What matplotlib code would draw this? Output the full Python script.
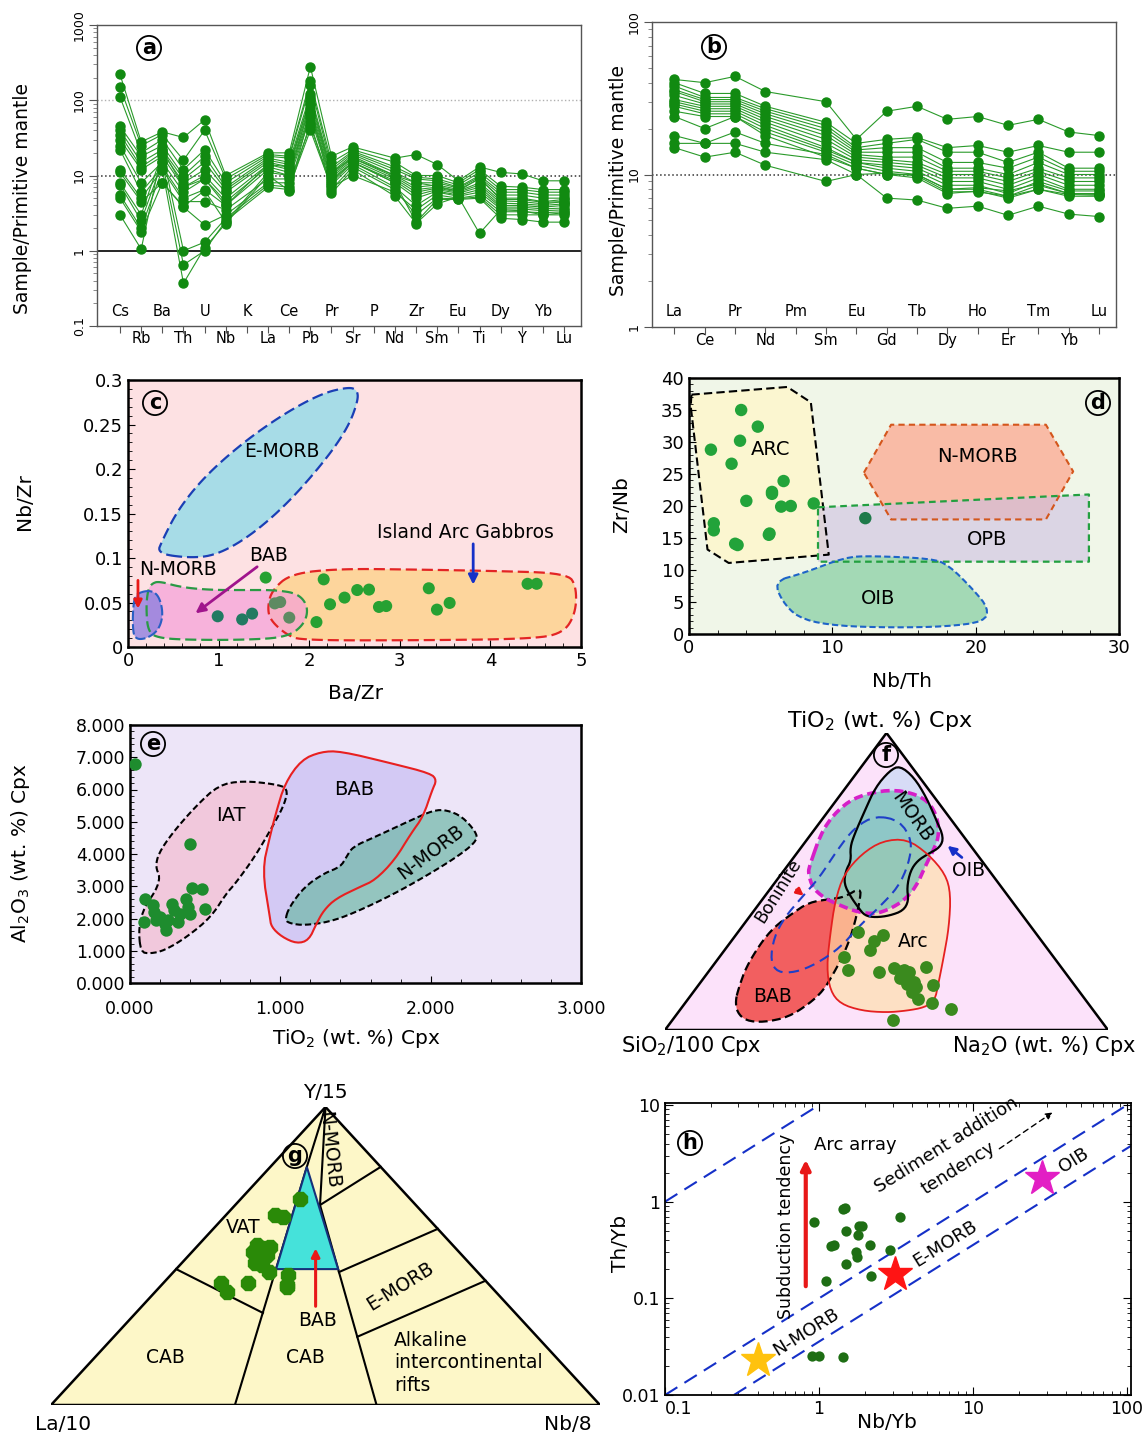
#!/usr/bin/env python3
import matplotlib
matplotlib.use("Agg")
import matplotlib.pyplot as plt
import numpy as np
from matplotlib.patches import Polygon
from matplotlib.path import Path
from matplotlib.ticker import MultipleLocator, NullFormatter

plt.rcParams['font.family'] = ['DejaVu Sans']
plt.rcParams['mathtext.default'] = 'regular'

# ---------------- data ----------------
# (a) primitive mantle normalised multi-element pattern
elems_a = ["Cs", "Rb", "Ba", "Th", "U", "Nb", "K", "La", "Ce", "Pb", "Pr",
           "Sr", "P", "Nd", "Zr", "Sm", "Eu", "Ti", "Dy", "Y", "Yb", "Lu"]
skip_a = ["K", "P"]
spider_a = [
    [220, 28, 38, 32, 55, 10, 20, 20, 280, 18, 24, 17, 19, 14, 8.5, 13, 11, 10.5, 8.5, 8.5],
    [150, 25, 35, 16, 40, 9, 19, 18, 180, 15, 22, 15, 10, 10, 8, 12, 7.2, 7, 6.5, 6.5],
    [110, 20, 30, 12, 22, 8, 18, 17, 160, 13, 21, 13, 9.5, 9, 7.5, 11, 6.5, 6.5, 6, 6],
    [45, 18, 25, 10, 18, 7, 17, 15, 120, 12, 20, 12, 9, 8.5, 7, 10, 6, 6, 5.5, 5.5],
    [40, 15, 22, 9, 15, 6.5, 16, 14, 100, 11, 19, 11, 8, 8, 6.8, 9.5, 5.5, 5.5, 5, 5],
    [35, 13, 20, 8, 12, 6, 15, 13, 90, 10.5, 18, 10, 7, 7.5, 6.5, 9, 5, 5, 4.5, 4.8],
    [30, 12, 18, 7, 10, 5, 14, 12, 80, 10, 17, 9.5, 6.5, 7, 6.2, 8, 4.6, 4.5, 4.2, 4.5],
    [25, 8, 15, 6, 9, 4.5, 13, 11, 70, 9.5, 16, 9, 6, 6.8, 6, 7.5, 4.3, 4.2, 4, 4.2],
    [22, 6, 13, 5, 6.5, 4, 12, 10, 65, 9, 15, 8.5, 5.5, 6.5, 5.8, 7, 4, 4, 3.8, 4],
    [12, 5, 12, 4.5, 4.5, 3.5, 9, 9, 60, 8, 15, 8, 5, 6.2, 5.5, 6.5, 3.8, 3.8, 3.6, 3.7],
    [11, 4.5, 8, 3.8, 2.2, 3, 8, 8, 45, 7.5, 14, 7, 4, 6, 5.3, 6, 3.6, 3.6, 3.4, 3.5],
    [8, 3, 20, 1.0, 1.3, 2.7, 7.5, 7, 40, 7, 10, 6, 3.5, 5.5, 5, 5.5, 3.3, 3.3, 3.2, 3.3],
    [7.5, 2.5, 15, 0.65, 1.0, 2.5, 7, 6.5, 50, 6.5, 13, 6.5, 3, 5, 4.9, 5.2, 3, 3, 3, 3],
    [5.5, 2, 12, 0.37, 1.1, 2.3, 10, 6.3, 70, 8.5, 15, 8, 2.4, 4.8, 4.8, 5, 2.7, 2.6, 2.4, 2.4],
    [5, 1.8, 8, 3.9, 6.3, 2.4, 11, 10, 90, 5.8, 12, 5.3, 2.3, 4.2, 5.2, 1.7, 3.5, 3.4, 3, 3.2],
    [3, 1.05, 22, 7, 9, 4, 14, 13, 110, 11, 17, 10, 8, 7.2, 6.2, 9.2, 4.8, 4.8, 4.4, 4.5],
]

# (b) REE pattern
elems_b = ["La", "Ce", "Pr", "Nd", "Pm", "Sm", "Eu", "Gd", "Tb", "Dy", "Ho", "Er", "Tm", "Yb", "Lu"]
skip_b = ["Pm"]
spider_b = [
    [42, 40, 44, 35, 30, 17, 26, 28, 23, 24, 21, 23, 19, 18],
    [40, 34, 34, 28, 22, 16, 17, 17.5, 15, 15.5, 14, 15.5, 14, 14],
    [38, 32, 32, 27, 21, 15, 16, 17, 14, 14, 12, 14, 11, 11],
    [36, 31, 31, 26, 20, 14.5, 15, 15, 12, 12, 11, 13, 10.5, 10.5],
    [35, 30, 30, 25, 19, 14, 14, 14, 11, 11, 10, 12, 10, 10],
    [33, 29, 29, 24, 18, 13.5, 13, 13, 10.5, 10.5, 9.5, 11, 9.5, 9.5],
    [31, 28, 28, 23, 17, 13, 12.5, 12, 10, 10, 9, 10.5, 9, 9],
    [30, 27, 27, 22, 16, 12.5, 12, 11.5, 9.5, 9.5, 8.5, 10, 8.5, 8.5],
    [29, 26, 26, 21, 15, 12, 11.5, 11, 9, 9, 8, 9.5, 8, 8],
    [28, 25, 25, 20, 14.5, 12, 11, 10.5, 8.5, 8.5, 7.5, 9, 7.8, 7.8],
    [26, 24, 24, 19, 14, 11.5, 10.5, 10, 8, 8, 7.2, 8.5, 7.5, 7.5],
    [24, 20, 24, 18, 13, 11, 10, 9.5, 7.5, 7.8, 7, 8, 7.2, 7.2],
    [18, 16, 19, 16, 13.5, 11, 10, 10, 8, 8.2, 7.8, 8.7, 7.5, 7.4],
    [16, 16, 16, 14, 12.5, 10, 7, 6.8, 6, 6.2, 5.4, 6.2, 5.5, 5.3],
    [15, 13, 14, 11.5, 9, 10, 10.2, 9.8, 7.7, 7.7, 7.2, 8, 7.4, 7.3],
]

# (c) Ba/Zr vs Nb/Zr
c_bazr = [1.52, 2.16, 2.53, 2.66, 3.32, 4.41, 4.51, 2.39, 2.23, 2.77, 2.85, 3.41, 3.55,
          2.08, 1.62, 1.68, 1.78, 0.99, 1.26, 1.37]
c_nbzr = [0.078, 0.076, 0.064, 0.0645, 0.066, 0.071, 0.071, 0.0555, 0.048, 0.045, 0.046,
          0.042, 0.0495, 0.028, 0.049, 0.0505, 0.033, 0.0345, 0.031, 0.0375]
c_emorb = [(0.32, 0.105), (0.675, 0.10), (0.97, 0.103), (1.34, 0.124), (1.76, 0.161), (2.18, 0.21),
           (2.43, 0.247), (2.54, 0.277), (2.53, 0.289), (2.43, 0.292), (2.14, 0.285), (1.72, 0.262),
           (1.26, 0.229), (0.84, 0.191), (0.55, 0.154), (0.38, 0.12)]
c_bab = [(0.26, 0.071), (0.34, 0.074), (0.59, 0.067), (0.93, 0.064), (1.30, 0.064), (1.63, 0.064),
         (1.88, 0.060), (1.99, 0.045), (1.95, 0.026), (1.76, 0.011), (1.30, 0.008), (0.68, 0.008),
         (0.34, 0.010), (0.22, 0.017), (0.20, 0.045), (0.22, 0.064)]
c_nmorb = [(0.09, 0.060), (0.24, 0.064), (0.34, 0.058), (0.39, 0.0375), (0.34, 0.019), (0.20, 0.009),
           (0.07, 0.009), (0.05, 0.026), (0.06, 0.049)]
c_iag = [(1.59, 0.064), (1.80, 0.0825), (2.34, 0.088), (3.18, 0.087), (4.01, 0.0855), (4.85, 0.083),
         (4.95, 0.0675), (4.94, 0.0375), (4.80, 0.015), (4.43, 0.009), (3.18, 0.0075), (1.93, 0.0075),
         (1.76, 0.013), (1.57, 0.030), (1.54, 0.045)]

# (d) Nb/Th vs Zr/Nb
d_nbth = [3.64, 4.8, 3.56, 1.53, 2.97, 6.6, 5.79, 5.79, 4.0, 6.43, 7.1, 8.7, 1.73, 1.73, 5.62,
          5.57, 3.22, 3.39, 12.3]
d_zrnb = [35.0, 32.4, 30.2, 28.8, 26.6, 23.9, 22.2, 21.9, 20.8, 19.9, 20.0, 20.4, 17.3, 16.2,
          15.7, 15.5, 14.1, 13.9, 18.1]
d_arc = [(0.17, 37.4), (6.86, 38.6), (8.5, 36.2), (9.75, 12.4), (2.77, 11.1), (1.29, 13.2), (0.12, 35.6)]
d_nmorb = [(12.2, 25.2), (14.1, 32.7), (24.9, 32.7), (26.8, 25.4), (24.9, 17.9), (14.1, 17.9)]
d_opb = [(9.0, 19.8), (27.9, 21.8), (27.9, 11.3), (9.0, 11.3)]
d_oib = [(5.87, 8.2), (7.97, 9.5), (10.9, 12.0), (12.7, 12.2), (16.9, 11.8), (18.1, 10.8), (19.85, 6.9),
         (20.9, 4.0), (20.6, 1.9), (17.9, 1.15), (14.2, 1.0), (10.4, 1.25), (7.97, 2.2), (6.73, 4.3)]

# (e) TiO2 vs Al2O3 in Cpx
e_tio2 = [0.036, 0.40, 0.41, 0.48, 0.50, 0.10, 0.096, 0.16, 0.20, 0.23, 0.24, 0.28, 0.29, 0.33,
          0.37, 0.385, 0.396, 0.25, 0.17, 0.32, 0.15]
e_al2o3 = [6.79, 4.30, 2.95, 2.91, 2.31, 2.62, 1.89, 2.2, 2.05, 1.84, 1.64, 2.46, 2.26, 2.15,
           2.62, 2.36, 2.15, 1.95, 1.95, 1.89, 2.41]
e_iat = [(0.07, 0.96), (0.057, 1.74), (0.096, 2.36), (0.174, 2.88), (0.2, 3.29), (0.17, 3.6), (0.19, 4.02),
         (0.28, 4.64), (0.435, 5.47), (0.59, 6.14), (0.75, 6.27), (0.96, 6.17), (1.05, 6.04), (1.03, 5.57),
         (0.96, 4.95), (0.83, 3.91), (0.70, 3.08), (0.64, 2.77), (0.54, 2.05), (0.38, 1.43), (0.23, 1.01),
         (0.135, 0.91)]
e_bab = [(0.93, 2.05), (0.88, 3.5), (0.93, 4.53), (0.97, 5.26), (1.03, 6.19), (1.14, 6.92), (1.27, 7.17),
         (1.40, 7.19), (1.74, 6.81), (2.0, 6.5), (2.04, 6.29), (2.01, 5.98), (1.95, 5.16), (1.87, 4.64),
         (1.76, 3.81), (1.63, 3.19), (1.53, 2.98), (1.37, 2.62), (1.29, 2.26), (1.24, 1.84), (1.19, 1.33),
         (1.11, 1.22), (1.01, 1.43), (0.94, 1.74)]
e_nmorb = [(1.03, 1.95), (1.06, 2.36), (1.16, 2.98), (1.29, 3.40), (1.40, 3.60), (1.44, 3.91), (1.48, 4.22),
           (1.63, 4.53), (1.87, 5.05), (2.02, 5.36), (2.11, 5.36), (2.21, 5.16), (2.30, 4.69), (2.31, 4.43),
           (2.21, 4.02), (2.0, 3.40), (1.74, 2.72), (1.48, 2.15), (1.32, 1.89), (1.16, 1.79), (1.07, 1.84)]

# (f) ternary TiO2 / SiO2/100 / Na2O (fractions of TiO2 and Na2O apexes)
f_ti = [0.331, 0.301, 0.320, 0.269, 0.247, 0.202, 0.196, 0.208, 0.202, 0.177, 0.175, 0.213,
        0.160, 0.144, 0.127, 0.152, 0.104, 0.091, 0.071, 0.034, 0.155, 0.195, 0.198]
f_na = [0.2705, 0.3205, 0.332, 0.3285, 0.2795, 0.313, 0.385, 0.413, 0.439, 0.4575, 0.4425, 0.4835,
        0.482, 0.494, 0.4945, 0.529, 0.518, 0.5575, 0.6105, 0.498, 0.4685, 0.4525, 0.435]
# field outlines in the triangle frame (x across, y up; apex at 0.5, 1)
f_morb = [(0.530, 0.890), (0.562, 0.851), (0.590, 0.783), (0.613, 0.705), (0.629, 0.649), (0.621, 0.615),
          (0.594, 0.593), (0.570, 0.570), (0.554, 0.536), (0.546, 0.480), (0.550, 0.435), (0.538, 0.402),
          (0.507, 0.385), (0.475, 0.379), (0.451, 0.385), (0.436, 0.413), (0.420, 0.447), (0.404, 0.492),
          (0.408, 0.536), (0.420, 0.570), (0.418, 0.615), (0.428, 0.660), (0.451, 0.738), (0.475, 0.817),
          (0.507, 0.873)]
f_ellipse = [(0.325, 0.548), (0.357, 0.682), (0.404, 0.761), (0.451, 0.795), (0.522, 0.811), (0.586, 0.783),
             (0.613, 0.727), (0.619, 0.660), (0.609, 0.615), (0.590, 0.559), (0.566, 0.480), (0.538, 0.435),
             (0.507, 0.407), (0.475, 0.391), (0.436, 0.396), (0.388, 0.424), (0.357, 0.447), (0.333, 0.480),
             (0.324, 0.525)]
f_boninite = [(0.475, 0.722), (0.530, 0.705), (0.558, 0.637), (0.550, 0.559), (0.526, 0.480), (0.483, 0.413),
              (0.436, 0.346), (0.396, 0.278), (0.341, 0.222), (0.294, 0.194), (0.254, 0.194), (0.238, 0.233),
              (0.246, 0.312), (0.270, 0.379), (0.309, 0.447), (0.349, 0.514), (0.388, 0.604), (0.428, 0.682)]
f_bab = [(0.159, 0.099), (0.167, 0.144), (0.183, 0.211), (0.215, 0.290), (0.246, 0.346), (0.286, 0.391),
         (0.325, 0.430), (0.373, 0.441), (0.404, 0.447), (0.442, 0.480), (0.440, 0.435), (0.424, 0.334),
         (0.404, 0.256), (0.380, 0.189), (0.357, 0.132), (0.325, 0.088), (0.278, 0.043), (0.223, 0.026),
         (0.183, 0.031), (0.163, 0.059)]
f_arc = [(0.365, 0.211), (0.373, 0.323), (0.384, 0.435), (0.404, 0.525), (0.444, 0.593), (0.491, 0.637),
         (0.546, 0.643), (0.594, 0.593), (0.633, 0.525), (0.645, 0.458), (0.641, 0.346), (0.629, 0.245),
         (0.617, 0.155), (0.609, 0.099), (0.586, 0.076), (0.546, 0.065), (0.499, 0.059), (0.444, 0.065),
         (0.396, 0.088), (0.373, 0.132)]

# (g) ternary Y/15 - La/10 - Nb/8 (fractions of Y/15 and Nb/8 apexes)
g_y = [0.691, 0.638, 0.631, 0.537, 0.527, 0.530, 0.513, 0.477, 0.503, 0.470, 0.436, 0.403,
       0.409, 0.409, 0.379, 0.447, 0.395]
g_nb = [0.1085, 0.089, 0.1075, 0.1065, 0.1225, 0.134, 0.1115, 0.1335, 0.1415, 0.149, 0.214,
        0.2275, 0.1545, 0.1055, 0.1305, 0.1735, 0.2315]
g_lines = [
    [(0.5, 1.0), (0.466, 0.799), (0.335, 0.0)],
    [(0.5, 1.0), (0.490, 0.671), (0.593, 0.0)],
    [(0.228, 0.456), (0.386, 0.309)],
    [(0.490, 0.671), (0.6005, 0.799)],
    [(0.5245, 0.446), (0.7045, 0.591)],
    [(0.558, 0.229), (0.7915, 0.417)],
]
g_bab = [(0.466, 0.799), (0.410, 0.456), (0.523, 0.456)]

# (h) Nb/Yb vs Th/Yb
h_nbyb = [0.925, 1.44, 1.48, 1.82, 1.91, 1.49, 1.79, 1.20, 1.25, 2.13, 2.91, 1.75, 1.77, 1.50,
          1.11, 2.19, 3.35, 0.90, 1.00, 1.44]
h_thyb = [0.62, 0.85, 0.86, 0.56, 0.56, 0.50, 0.45, 0.35, 0.355, 0.36, 0.32, 0.30, 0.27, 0.225,
          0.152, 0.17, 0.70, 0.0253, 0.0253, 0.0249]
h_ref_name = ["N-MORB", "E-MORB", "OIB"]
h_ref_nbyb = [0.40, 3.1, 28]
h_ref_thyb = [0.023, 0.18, 1.74]
h_array_ratio = [10.0, 0.1, 0.0357]     # Th/Yb = k * Nb/Yb
h_array_from = [0.1, 0.1, 0.28]
h_array_to = [0.95, 106, 106]

# ---------------- figure ----------------
W, H = 1144, 1436
fig = plt.figure(figsize=(W / 100, H / 100), dpi=100)


def box(l, t, r, b):
    return fig.add_axes([l / W, 1 - b / H, (r - l) / W, (b - t) / H])


def ptext(x, y, s, **kw):
    kw.setdefault('ha', 'center')
    kw.setdefault('va', 'center')
    fig.text(x / W, 1 - y / H, s, **kw)


def tag(x, y, s):
    ptext(x, y, s, fontsize=15, fontweight='bold', zorder=10,
          bbox=dict(boxstyle='circle,pad=0.1', fc='none', ec='black', lw=1.3))


def smooth(pts, n=3):
    p = np.asarray(pts, float)
    for _ in range(n):
        q = np.roll(p, -1, axis=0)
        r = np.empty((2 * len(p), 2))
        r[0::2] = 0.75 * p + 0.25 * q
        r[1::2] = 0.25 * p + 0.75 * q
        p = r
    return p


def field(ax, pts, fc, ec, ls, lw=1.5, alpha=1.0, n=3, zf=1, zl=2):
    p = smooth(pts, n) if n else np.asarray(pts, float)
    if fc is not None:
        ax.add_patch(Polygon(p, closed=True, fc=fc, ec='none', alpha=alpha, zorder=zf))
    ax.add_patch(Polygon(p, closed=True, fill=False, ec=ec, ls=ls, lw=lw, zorder=zl,
                         joinstyle='round'))
    return p


def frame(ax, lw=1.8, color='black'):
    for s in ax.spines.values():
        s.set_linewidth(lw)
        s.set_color(color)


# ---- (a)
green = '#118a11'
ax = box(97, 25, 581, 326)
ax.set_yscale('log')
ax.set_ylim(0.1, 1000)
ax.set_xlim(-1.09, 21.8)
xa = [i for i, e in enumerate(elems_a) if e not in skip_a]
for s in spider_a:
    ax.plot(xa, s, '-', color='#2a9a2a', lw=0.8, zorder=3)
    ax.plot(xa, s, 'o', color=green, ms=6.5, zorder=4)
ax.axhline(100, color='#b0b0b0', ls=':', lw=1)
ax.axhline(10, color='#333333', ls=':', lw=1.1)
ax.axhline(1, color='black', lw=1.2)
ax.set_xticks(range(len(elems_a)))
ax.set_xticklabels([])
ax.tick_params(axis='x', length=5, direction='out', color='#555555')
for i, e in enumerate(elems_a):
    ax.text(i, 0.048 if i % 2 == 0 else -0.041, e, transform=ax.get_xaxis_transform(),
            ha='center', va='center', fontsize=10.5)
ax.set_yticks([0.1, 1, 10, 100, 1000])
ax.set_yticklabels(['0.1', '1', '10', '100', '1000'], rotation=90, va='center', fontsize=9)
ax.yaxis.set_minor_formatter(NullFormatter())
ax.tick_params(axis='y', which='major', direction='out', length=6, color='#555555', pad=2)
ax.tick_params(axis='y', which='minor', direction='out', length=3, color='#777777')
frame(ax, 1.0, '#555555')
ptext(23, 199, 'Sample/Primitive mantle', rotation=90, fontsize=13.5)
tag(149, 48, 'a')

# ---- (b)
ax = box(652, 22, 1116, 327)
ax.set_yscale('log')
ax.set_ylim(1, 100)
ax.set_xlim(-0.74, 14.56)
xb = [i for i, e in enumerate(elems_b) if e not in skip_b]
for s in spider_b:
    ax.plot(xb, s, '-', color='#2a9a2a', lw=0.8, zorder=3)
    ax.plot(xb, s, 'o', color=green, ms=6.5, zorder=4)
ax.axhline(10, color='#333333', ls=':', lw=1.1)
ax.set_xticks(range(len(elems_b)))
ax.set_xticklabels([])
ax.tick_params(axis='x', length=5, direction='out', color='#555555')
for i, e in enumerate(elems_b):
    ax.text(i, 0.05 if i % 2 == 0 else -0.043, e, transform=ax.get_xaxis_transform(),
            ha='center', va='center', fontsize=10.5)
ax.set_yticks([1, 10, 100])
ax.set_yticklabels(['1', '10', '100'], rotation=90, va='center', fontsize=9)
ax.yaxis.set_minor_formatter(NullFormatter())
ax.tick_params(axis='y', which='major', direction='out', length=6, color='#555555', pad=2)
ax.tick_params(axis='y', which='minor', direction='out', length=3, color='#777777')
frame(ax, 1.0, '#555555')
ptext(618, 180, 'Sample/Primitive mantle', rotation=90, fontsize=13.5)
tag(714, 47, 'b')

# ---- (c)
ax = box(128, 380, 581, 647)
ax.set_facecolor('#fde1e3')
ax.set_xlim(0, 5)
ax.set_ylim(0, 0.3)
field(ax, c_emorb, '#a7dce7', '#1a3fb5', (0, (5, 2.2)), lw=1.6, n=3)
field(ax, c_iag, '#fdd59c', '#e32424', (0, (5, 2.2)), lw=1.6, n=3, zf=1.0)
p_bab = field(ax, c_bab, '#f59fd8', '#2a9a45', (0, (5, 2.2)), lw=1.6, alpha=0.7, n=3, zf=1.1)
field(ax, c_nmorb, '#9080e0', '#2a5fc4', (0, (5, 1.5)), lw=1.5, alpha=0.8, n=3, zf=1.2)
pts = np.column_stack([c_bazr, c_nbzr])
in_bab = Path(p_bab).contains_points(pts)
in_iag = Path(smooth(c_iag)).contains_points(pts)
cols = ['#5e8a62' if (b and i) else ('#217a62' if b else '#27a132') for b, i in zip(in_bab, in_iag)]
ax.scatter(c_bazr, c_nbzr, s=75, c=cols, zorder=5, lw=0)
ax.text(1.70, 0.22, 'E-MORB', fontsize=13.5, ha='center', va='center', zorder=6)
ax.text(3.72, 0.129, 'Island Arc Gabbros', fontsize=13.5, ha='center', va='center', zorder=6)
ax.annotate('', xy=(3.81, 0.067), xytext=(3.81, 0.119),
            arrowprops=dict(arrowstyle='-|>', color='#1530c8', lw=2, mutation_scale=14), zorder=6)
ax.text(1.55, 0.103, 'BAB', fontsize=13.5, ha='center', va='center', zorder=6)
ax.annotate('', xy=(0.72, 0.036), xytext=(1.45, 0.092),
            arrowprops=dict(arrowstyle='-|>', color='#a0148c', lw=2, mutation_scale=14), zorder=6)
ax.text(0.55, 0.087, 'N-MORB', fontsize=13.5, ha='center', va='center', zorder=6)
ax.annotate('', xy=(0.11, 0.040), xytext=(0.11, 0.078),
            arrowprops=dict(arrowstyle='-|>', color='#e81818', lw=2, mutation_scale=12), zorder=6)
ax.xaxis.set_major_locator(MultipleLocator(1))
ax.xaxis.set_minor_locator(MultipleLocator(0.2))
ax.yaxis.set_major_locator(MultipleLocator(0.05))
ax.yaxis.set_minor_locator(MultipleLocator(0.01))
ax.yaxis.set_major_formatter(plt.FuncFormatter(lambda v, p: '%g' % round(v, 3)))
ax.tick_params(which='both', direction='in', labelsize=13)
ax.tick_params(which='major', length=5)
ax.tick_params(which='minor', length=3)
frame(ax)
ptext(25, 502, 'Nb/Zr', rotation=90, fontsize=14.5)
ptext(355, 693, 'Ba/Zr', fontsize=14.5)
tag(155, 403, 'c')

# ---- (d)
ax = box(689, 378, 1119, 634)
ax.set_facecolor('#f0f6e8')
ax.set_xlim(0, 30)
ax.set_ylim(0, 40)
field(ax, d_arc, '#fbf6d0', 'black', (0, (4, 2)), lw=1.5, n=0)
field(ax, d_nmorb, '#f9bba6', '#d4561c', (0, (3, 2)), lw=1.5, n=0, zf=1.1)
p_opb = field(ax, d_opb, '#cdbfe2', '#22a040', (0, (3, 2)), lw=1.6, alpha=0.6, n=0, zf=1.2)
field(ax, d_oib, '#a3d9b5', '#1e64c8', (0, (3, 1.5)), lw=1.5, n=2, zf=1.3)
pts = np.column_stack([d_nbth, d_zrnb])
cols = ['#1e7a4a' if k else '#22a33a' for k in Path(p_opb).contains_points(pts)]
ax.scatter(d_nbth, d_zrnb, s=80, c=cols, zorder=5, lw=0)
ax.text(5.7, 28.8, 'ARC', fontsize=14, ha='center', va='center', zorder=6)
ax.text(20.1, 27.7, 'N-MORB', fontsize=14, ha='center', va='center', zorder=6)
ax.text(20.8, 14.7, 'OPB', fontsize=14, ha='center', va='center', zorder=6)
ax.text(13.2, 5.6, 'OIB', fontsize=14, ha='center', va='center', zorder=6)
ax.xaxis.set_major_locator(MultipleLocator(10))
ax.xaxis.set_minor_locator(MultipleLocator(2))
ax.yaxis.set_major_locator(MultipleLocator(5))
ax.yaxis.set_minor_locator(MultipleLocator(1))
ax.tick_params(which='both', direction='in', labelsize=13)
ax.tick_params(which='major', length=5)
ax.tick_params(which='minor', length=3)
frame(ax)
ptext(622, 505, 'Zr/Nb', rotation=90, fontsize=14.5)
ptext(902, 682, 'Nb/Th', fontsize=14.5)
tag(1098, 403, 'd')

# ---- (e)
ax = box(130, 725, 581, 983)
ax.set_facecolor('#ede5f8')
ax.set_xlim(0, 3)
ax.set_ylim(0, 8)
field(ax, e_iat, '#f1c8dc', 'black', (0, (3, 1.5)), lw=1.5, n=2)
field(ax, e_bab, '#d3c9f4', '#e82020', '-', lw=1.5, n=2, zf=1.1, zl=2.1)
field(ax, e_nmorb, '#6fb8a8', 'black', (0, (3, 1.5)), lw=1.5, alpha=0.7, n=2, zf=1.2)
ax.scatter(e_tio2, e_al2o3, s=80, c='#1e8c2e', zorder=5, lw=0)
ax.text(0.67, 5.18, 'IAT', fontsize=14, ha='center', va='center', zorder=6)
ax.text(1.49, 6.0, 'BAB', fontsize=14, ha='center', va='center', zorder=6)
ax.text(2.0, 4.05, 'N-MORB', fontsize=13.5, ha='center', va='center', rotation=37, zorder=6)
ax.xaxis.set_major_locator(MultipleLocator(1))
ax.xaxis.set_minor_locator(MultipleLocator(0.2))
ax.yaxis.set_major_locator(MultipleLocator(1))
ax.yaxis.set_minor_locator(MultipleLocator(0.2))
ax.xaxis.set_major_formatter(plt.FuncFormatter(lambda v, p: '%.3f' % v))
ax.yaxis.set_major_formatter(plt.FuncFormatter(lambda v, p: '%.3f' % v))
ax.tick_params(which='both', direction='in', labelsize=12.5)
ax.tick_params(which='major', length=5)
ax.tick_params(which='minor', length=3)
ax.tick_params(axis='x', pad=12)
frame(ax)
ptext(21, 853, 'Al$_2$O$_3$ (wt. %) Cpx', rotation=90, fontsize=14.5)
ptext(356, 1038, 'TiO$_2$ (wt. %) Cpx', fontsize=14.5)
tag(153, 744, 'e')

# ---- (f) ternary
ax = box(665, 733, 1108, 1030)
ax.set_xlim(0, 1)
ax.set_ylim(0, 1)
ax.axis('off')
tri = [(0, 0), (1, 0), (0.5, 1)]
ax.add_patch(Polygon(tri, closed=True, fc='#fce2fa', ec='none', zorder=0))
field(ax, f_morb, '#d7dcf6', 'black', '-', lw=1.6, n=2, zf=1, zl=2.4)
field(ax, f_bab, '#f25858', 'black', (0, (4, 2)), lw=1.6, alpha=0.95, n=2, zf=1.1, zl=2.2)
field(ax, f_arc, '#ffe0a8', '#e52020', '-', lw=1.3, alpha=0.65, n=2, zf=1.2, zl=2.5)
field(ax, f_ellipse, '#6fbfb4', '#d61fc8', (0, (2.5, 1.3)), lw=2.6, alpha=0.7, n=2, zf=1.3, zl=2.3)
field(ax, f_boninite, None, '#1f3fc8', (0, (5, 3)), lw=1.5, n=2, zl=2.6)
ax.add_patch(Polygon(tri, closed=True, fill=False, ec='black', lw=1.8, zorder=3, joinstyle='miter'))
fx = np.asarray(f_na) + np.asarray(f_ti) / 2
ax.scatter(fx, f_ti, s=85, c='#3a8a1e', zorder=5, lw=0, clip_on=False)
ax.text(0.560, 0.299, 'Arc', fontsize=13.5, ha='center', va='center', zorder=6)
ax.text(0.558, 0.716, 'MORB', fontsize=13.5, ha='center', va='center', rotation=-55, zorder=6)
ax.text(0.242, 0.112, 'BAB', fontsize=13.5, ha='center', va='center', zorder=6)
ax.text(0.685, 0.536, 'OIB', fontsize=13.5, ha='center', va='center', zorder=6)
ax.text(0.255, 0.47, 'Boninite', fontsize=12.5, ha='center', va='center', rotation=58, zorder=6)
ax.annotate('', xy=(0.633, 0.626), xytext=(0.675, 0.575),
            arrowprops=dict(arrowstyle='-|>', color='#1530c8', lw=2, mutation_scale=12), zorder=6)
ax.annotate('', xy=(0.318, 0.446), xytext=(0.292, 0.478),
            arrowprops=dict(arrowstyle='-|>', color='#e81818', lw=2, mutation_scale=10), zorder=6)
ax.text(0.485, 1.04, 'TiO$_2$ (wt. %) Cpx', fontsize=16, ha='center', va='center', zorder=6)
ax.text(0.06, -0.055, 'SiO$_2$/100 Cpx', fontsize=15, ha='center', va='center')
ax.text(0.855, -0.055, 'Na$_2$O (wt. %) Cpx', fontsize=15, ha='center', va='center')
tag(886, 755, 'f')

# ---- (g) ternary
ax = box(51, 1107, 600, 1405)
ax.set_xlim(0, 1)
ax.set_ylim(0, 1)
ax.axis('off')
ax.add_patch(Polygon(tri, closed=True, fc='#fdf7c8', ec='none', zorder=0))
ax.add_patch(Polygon(g_bab, closed=True, fc='#45e2da', ec='#16307a', lw=1.5, zorder=2))
for seg in g_lines:
    seg = np.asarray(seg)
    ax.plot(seg[:, 0], seg[:, 1], color='black', lw=1.5, zorder=1.5)
ax.add_patch(Polygon(tri, closed=True, fill=False, ec='black', lw=1.8, zorder=3))
gx = np.asarray(g_nb) + np.asarray(g_y) / 2
ax.plot(gx, g_y, '8', color='#2a8a08', ms=11, ls='none', zorder=4)
ax.text(0.350, 0.597, 'VAT', fontsize=13.5, ha='center', va='center', zorder=6)
ax.text(0.208, 0.161, 'CAB', fontsize=13.5, ha='center', va='center')
ax.text(0.464, 0.161, 'CAB', fontsize=13.5, ha='center', va='center')
ax.text(0.485, 0.285, 'BAB', fontsize=13.5, ha='center', va='center')
ax.annotate('', xy=(0.482, 0.535), xytext=(0.482, 0.322),
            arrowprops=dict(arrowstyle='-|>', color='#e81818', lw=2.2, mutation_scale=12), zorder=6)
ax.text(0.636, 0.399, 'E-MORB', fontsize=13.5, ha='center', va='center', rotation=32)
ax.text(0.505, 0.855, 'N-MORB', fontsize=13.5, ha='center', va='center', rotation=-84)
ax.text(0.625, 0.141, 'Alkaline\nintercontinental\nrifts', fontsize=13.5, ha='left', va='center',
        linespacing=1.25)
ax.text(0.499, 1.05, 'Y/15', fontsize=14.5, ha='center', va='center')
ax.text(0.022, -0.066, 'La/10', fontsize=14.5, ha='center', va='center')
ax.text(0.942, -0.066, 'Nb/8', fontsize=14.5, ha='center', va='center')
tag(295, 1156, 'g')

# ---- (h)
ax = box(665, 1103, 1131, 1395)
ax.set_xscale('log')
ax.set_yscale('log')
ax.set_xlim(0.1, 106)
ax.set_ylim(0.01, 10.5)
for k, x0, x1 in zip(h_array_ratio, h_array_from, h_array_to):
    xs = np.array([x0, x1])
    ax.plot(xs, k * xs, color='#1530c8', ls=(0, (7, 4)), lw=1.5, zorder=2)
ax.scatter(h_nbyb, h_thyb, s=55, c='#1e6e14', zorder=5, lw=0)
for name, x, y, col in zip(h_ref_name, h_ref_nbyb, h_ref_thyb, ['#ffc20e', '#ff1414', '#e21fc4']):
    ax.plot(x, y, '*', color=col, ms=26, mec=col, zorder=6)
ax.text(0.83, 0.045, 'N-MORB', fontsize=13, rotation=32, ha='center', va='center')
ax.text(6.6, 0.365, 'E-MORB', fontsize=13, rotation=32, ha='center', va='center')
ax.text(45, 2.65, 'OIB', fontsize=13, rotation=32, ha='center', va='center')
ax.text(1.73, 3.9, 'Arc array', fontsize=13, ha='center', va='center')
ax.text(0.61, 0.55, 'Subduction tendency', fontsize=12.5, rotation=90, ha='center', va='center')
ax.annotate('', xy=(0.82, 2.9), xytext=(0.82, 0.125),
            arrowprops=dict(arrowstyle='-|>', color='#e81818', lw=3, mutation_scale=14), zorder=6)
ax.text(6.7, 3.85, 'Sediment addition', fontsize=13, rotation=32, ha='center', va='center')
ax.text(8.0, 2.2, 'tendency', fontsize=13, rotation=32, ha='center', va='center')
ax.annotate('', xy=(34, 8.7), xytext=(14.3, 3.4),
            arrowprops=dict(arrowstyle='-|>', color='black', lw=1, ls=(0, (4, 3)), mutation_scale=10))
ax.set_xticks([0.1, 1, 10, 100])
ax.set_xticklabels(['0.1', '1', '10', '100'])
ax.get_xticklabels()[0].set_ha('left')
ax.set_yticks([0.01, 0.1, 1, 10])
ax.set_yticklabels(['0.01', '0.1', '1', '10'])
ax.xaxis.set_minor_formatter(NullFormatter())
ax.yaxis.set_minor_formatter(NullFormatter())
ax.tick_params(which='both', direction='in', top=True, right=True, labelsize=12.5)
ax.tick_params(which='major', length=6)
ax.tick_params(which='minor', length=3)
frame(ax, 1.3)
ptext(621, 1243, 'Th/Yb', rotation=90, fontsize=14.5)
ptext(887, 1423, 'Nb/Yb', fontsize=14.5)
tag(690, 1143, 'h')

fig.savefig('out.png', dpi=100, facecolor='white')
